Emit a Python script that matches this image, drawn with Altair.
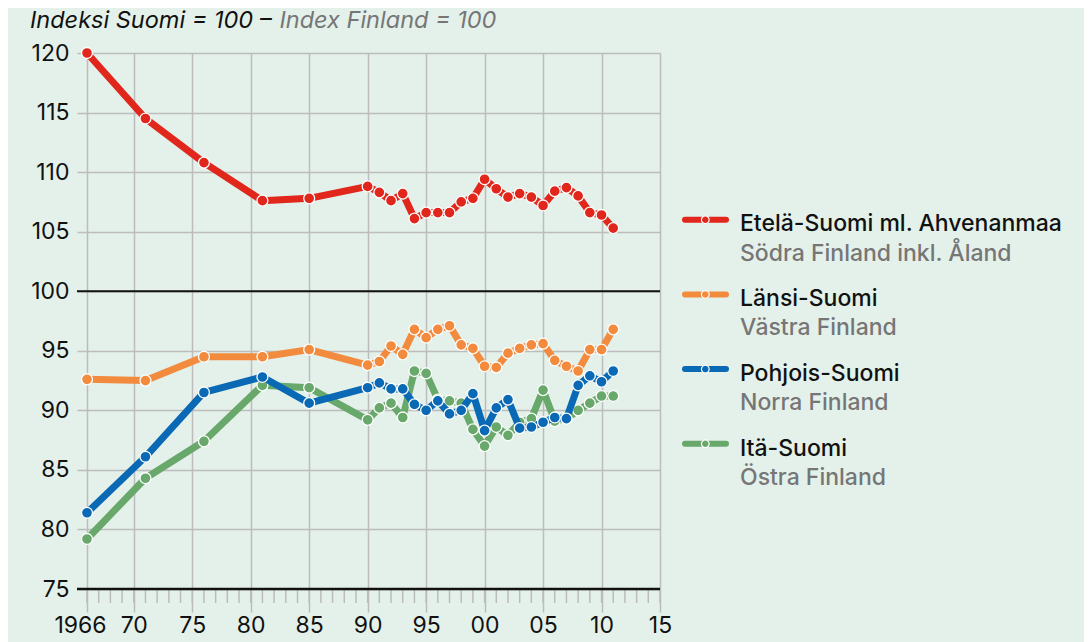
import altair as alt
import pandas as pd

# ---------------- data ----------------
years = [1966, 1971, 1976, 1981, 1985,
         1990, 1991, 1992, 1993, 1994, 1995, 1996, 1997, 1998, 1999,
         2000, 2001, 2002, 2003, 2004, 2005, 2006, 2007, 2008, 2009, 2010, 2011]

etela = [120.0, 114.5, 110.8, 107.6, 107.8,
         108.8, 108.3, 107.6, 108.2, 106.1, 106.6, 106.6, 106.6, 107.5, 107.8,
         109.4, 108.6, 107.9, 108.2, 107.9, 107.2, 108.4, 108.7, 108.0, 106.6, 106.4, 105.3]
lansi = [92.6, 92.5, 94.5, 94.5, 95.1,
         93.8, 94.1, 95.4, 94.7, 96.8, 96.1, 96.8, 97.1, 95.5, 95.2,
         93.7, 93.6, 94.8, 95.2, 95.5, 95.6, 94.2, 93.7, 93.3, 95.1, 95.1, 96.8]
pohjois = [81.4, 86.1, 91.5, 92.8, 90.6,
           91.9, 92.3, 91.8, 91.8, 90.5, 90.0, 90.8, 89.7, 90.0, 91.4,
           88.3, 90.2, 90.9, 88.5, 88.6, 89.0, 89.4, 89.3, 92.1, 92.9, 92.4, 93.3]
ita = [79.2, 84.3, 87.4, 92.1, 91.9,
       89.2, 90.2, 90.6, 89.4, 93.3, 93.1, 90.9, 90.8, 90.6, 88.4,
       87.0, 88.6, 87.9, 89.0, 89.3, 91.7, 89.1, 89.3, 90.0, 90.6, 91.2, 91.2]

series_fi = ["Etelä-Suomi ml. Ahvenanmaa", "Länsi-Suomi", "Pohjois-Suomi", "Itä-Suomi"]
series_sv = ["Södra Finland inkl. Åland", "Västra Finland", "Norra Finland", "Östra Finland"]
series_colors = ["#e1261c", "#f28b3e", "#0a69b4", "#68a86b"]
series_values = [etela, lansi, pohjois, ita]

x_tick_values = [1966, 1970, 1975, 1980, 1985, 1990, 1995, 2000, 2005, 2010, 2015]
x_tick_labels = ["1966", "70", "75", "80", "85", "90", "95", "00", "05", "10", "15"]
minor_tick_years = [1966, 1967, 1968, 1969, 1970, 1971, 1972, 1973, 1974, 1975,
                    1976, 1977, 1978, 1979, 1980, 1981, 1982, 1983, 1984, 1985,
                    1986, 1987, 1988, 1989, 1990, 1991, 1992, 1993, 1994, 1995,
                    1996, 1997, 1998, 1999, 2000, 2001, 2002, 2003, 2004, 2005,
                    2006, 2007, 2008, 2009, 2010, 2011, 2012, 2013, 2014, 2015]
y_tick_values = [75, 80, 85, 90, 95, 100, 105, 110, 115, 120]

title_fi = "Indeksi Suomi = 100 –"
title_en = "Index Finland = 100"

# ---------------- style ----------------
W, H = 573, 536
BG = "#e4f1ea"
GRID = "#bcbcbc"
GREY_TEXT = "#767676"
FONT = "Inter"

rows = []
for name, vals in zip(series_fi, series_values):
    for y, v in zip(years, vals):
        rows.append({"year": y, "value": v, "series": name})
df = pd.DataFrame(rows)

xscale = alt.Scale(domain=[1966, 2015], nice=False, zero=False)
yscale = alt.Scale(domain=[75, 120], nice=False, zero=False)

label_expr = "[" + ",".join("'%s'" % s for s in x_tick_labels) + "][indexof([" + \
    ",".join(str(v) for v in x_tick_values) + "], datum.value)]"

x_axis = alt.Axis(values=x_tick_values, labelExpr=label_expr, grid=True,
                  gridColor=GRID, gridWidth=1.5, tickColor=GRID, tickWidth=1.5,
                  tickSize=23, domain=False, labelFont=FONT, labelFontSize=23,
                  labelColor="#111111", labelPadding=2, title=None,
                  labelOffset={"condition": {"test": "datum.value == 1966", "value": -7},
                               "value": 0},
                  labelFlush=False, labelOverlap=False)
y_axis = alt.Axis(values=y_tick_values, grid=True, gridColor=GRID, gridWidth=1.5,
                  tickColor=GRID, tickWidth=1.5, tickSize=10, domain=False,
                  labelFont=FONT, labelFontSize=23, labelColor="#111111",
                  labelPadding=8, title=None)

X = alt.X("year:Q", scale=xscale, axis=x_axis)
Y = alt.Y("value:Q", scale=yscale, axis=y_axis)

one = pd.DataFrame({"a": [0]})

minor = alt.Chart(pd.DataFrame({"year": minor_tick_years})).mark_rule(
    color=GRID, strokeWidth=1.5).encode(
    x=X, y=alt.value(H), y2=alt.value(H + 14),
)

rule100 = alt.Chart(one).mark_rule(color="#111111", strokeWidth=2).encode(
    y=alt.datum(100), x=alt.value(-10), x2=alt.value(W))
rule75 = alt.Chart(one).mark_rule(color="#111111", strokeWidth=2.5).encode(
    y=alt.value(H), x=alt.value(-10), x2=alt.value(W))

layers = [minor, rule100]

# draw order: green, blue, orange, red on top
for name, col in reversed(list(zip(series_fi, series_colors))):
    sub = df[df["series"] == name]
    ln = alt.Chart(sub).mark_line(color=col, strokeWidth=7, strokeJoin="round").encode(
        x=X, y=Y)
    pt = alt.Chart(sub).mark_point(filled=True, fill=col, stroke="white", strokeWidth=1.3,
                                   size=120, opacity=1).encode(x=X, y=Y)
    layers += [ln, pt]

layers.append(rule75)

# title
layers.append(alt.Chart(pd.DataFrame({"t": [title_fi]})).mark_text(
    align="left", baseline="alphabetic", font=FONT, fontSize=23.5, fontStyle="italic",
    color="#111111").encode(text="t:N", x=alt.value(-57), y=alt.value(-25)))
layers.append(alt.Chart(pd.DataFrame({"t": [title_en]})).mark_text(
    align="left", baseline="alphabetic", font=FONT, fontSize=23.5, fontStyle="italic",
    color=GREY_TEXT).encode(text="t:N", x=alt.value(192.5), y=alt.value(-25)))

# legend
for i, (fi, sv, col) in enumerate(zip(series_fi, series_sv, series_colors)):
    ys = 166.7 + i * 74.7
    layers.append(alt.Chart(one).mark_rule(color=col, strokeWidth=6, strokeCap="round").encode(
        x=alt.value(598), x2=alt.value(639), y=alt.value(ys)))
    layers.append(alt.Chart(one).mark_point(filled=True, fill=col, stroke="white",
                                            strokeWidth=1.2, size=60, opacity=1).encode(
        x=alt.value(618.3), y=alt.value(ys)))
    layers.append(alt.Chart(pd.DataFrame({"t": [fi]})).mark_text(
        align="left", baseline="alphabetic", font=FONT, fontSize=23, fontWeight=500,
        color="#111111").encode(text="t:N", x=alt.value(653), y=alt.value(178.4 + i * 74.8)))
    layers.append(alt.Chart(pd.DataFrame({"t": [sv]})).mark_text(
        align="left", baseline="alphabetic", font=FONT, fontSize=23, fontWeight=500,
        color=GREY_TEXT).encode(text="t:N", x=alt.value(653), y=alt.value(207.7 + i * 74.6)))

chart = alt.layer(*layers).properties(
    width=W, height=H,
    autosize=alt.AutoSizeParams(type="none"),
    padding={"left": 79, "top": 45, "right": 424, "bottom": 53},
    background=BG,
).configure_view(stroke=None)

chart.save("out.html", embed_options={"renderer": "svg", "actions": False})
